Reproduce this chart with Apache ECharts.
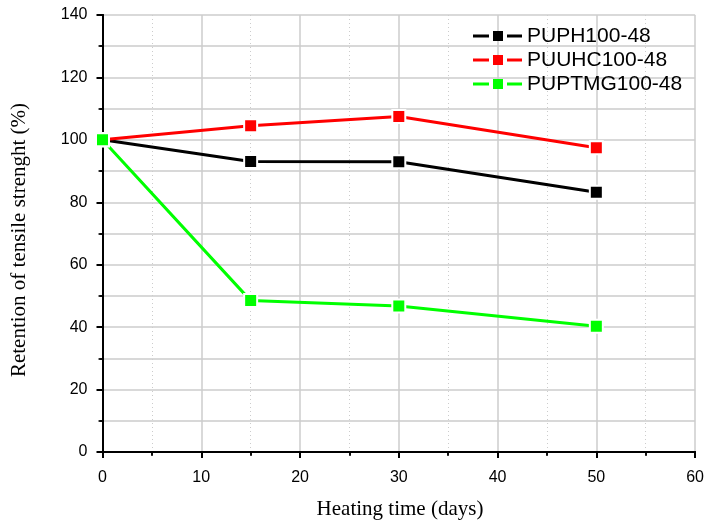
<!DOCTYPE html>
<html>
<head>
<meta charset="utf-8">
<script src="https://cdn.jsdelivr.net/npm/echarts@6/dist/echarts.min.js"></script>
<style>
  html, body { margin: 0; padding: 0; background: #fff; }
  #chart { width: 707px; height: 523px; }
</style>
</head>
<body>
<div id="chart"></div>
<script>
// Heating time (days) at which tensile strength was measured
const days = [0, 15, 30, 50];
const seriesNames = ['PUPH100-48', 'PUUHC100-48', 'PUPTMG100-48'];
// Retention of tensile strength (%) per formulation
const puph = [100, 93.1, 93.0, 83.2];
const puuhc = [100, 104.5, 107.5, 97.5];
const puptmg = [100, 48.5, 46.8, 40.3];
const seriesColors = ['#000000', '#ff0000', '#00ff00'];

const chart = echarts.init(document.getElementById('chart'));

const axisText = { fontFamily: 'Liberation Sans, Arial, sans-serif', fontSize: 16, color: '#000' };
const axisLine = { show: true, lineStyle: { color: '#000', width: 2 } };
// legend glyph: line segment, gap, square marker, gap, line segment
const legendIcon = 'path://M0,3.5h16v3h-16z M20,0h10v10h-10z M34,3.5h15v3h-15z';

function makeSeries(name, values, color) {
  return {
    name: name,
    type: 'line',
    data: days.map((d, i) => [d, values[i]]),
    symbol: 'rect',
    symbolSize: 13,
    showAllSymbol: true,
    lineStyle: { color: color, width: 3 },
    itemStyle: { color: color, borderColor: '#fff', borderWidth: 2 },
    emphasis: { disabled: true },
    z: 3
  };
}

chart.setOption({
  animation: false,
  backgroundColor: '#fff',
  grid: { left: 102.5, right: 10, top: 15, bottom: 71, containLabel: false },
  legend: {
    left: 468,
    top: 20,
    orient: 'vertical',
    icon: legendIcon,
    itemWidth: 49,
    itemHeight: 10,
    itemGap: 2,
    itemStyle: { borderWidth: 0 },
    lineStyle: { width: 0 },
    data: seriesNames,
    textStyle: { fontFamily: 'Liberation Sans, Arial, sans-serif', fontSize: 21, lineHeight: 22, color: '#000', padding: [0, 0, 0, 0] }
  },
  xAxis: [
    {
      type: 'value', min: 0, max: 60, interval: 10, position: 'bottom',
      axisLine: axisLine,
      axisTick: { show: true, inside: false, length: 6, lineStyle: { color: '#000', width: 2 } },
      minorTick: { show: true, splitNumber: 2, length: 4, lineStyle: { color: '#000', width: 1.5 } },
      axisLabel: Object.assign({ margin: 18 }, axisText),
      splitLine: { show: true, lineStyle: { color: '#cccccc', width: 1.5 } },
      minorSplitLine: { show: true, lineStyle: { color: '#cccccc', width: 1, type: [1, 3] } }
    },
    {
      type: 'value', min: 0, max: 60, interval: 10, position: 'top',
      axisLine: axisLine,
      axisTick: { show: true, inside: true, length: 5, lineStyle: { color: '#000', width: 2 } },
      minorTick: { show: true, splitNumber: 2, length: 3, lineStyle: { color: '#000', width: 1.5 } },
      axisLabel: { show: false },
      splitLine: { show: false }
    }
  ],
  yAxis: [
    {
      type: 'value', min: 0, max: 140, interval: 20, position: 'left',
      axisLine: axisLine,
      axisTick: { show: true, inside: false, length: 6, lineStyle: { color: '#000', width: 2 } },
      minorTick: { show: true, splitNumber: 2, length: 4, lineStyle: { color: '#000', width: 1.5 } },
      axisLabel: Object.assign({ margin: 15 }, axisText),
      splitLine: { show: true, lineStyle: { color: '#cccccc', width: 1.5 } },
      minorSplitLine: { show: true, lineStyle: { color: '#cccccc', width: 1.5 } }
    },
    {
      type: 'value', min: 0, max: 140, interval: 20, position: 'right',
      axisLine: axisLine,
      axisTick: { show: true, inside: true, length: 5, lineStyle: { color: '#000', width: 2 } },
      minorTick: { show: true, splitNumber: 2, length: 3, lineStyle: { color: '#000', width: 1.5 } },
      axisLabel: { show: false },
      splitLine: { show: false }
    }
  ],
  graphic: [
    {
      type: 'text',
      x: 400, y: 509,
      style: {
        text: 'Heating time (days)',
        align: 'center', verticalAlign: 'middle',
        fontFamily: 'Liberation Serif, Times New Roman, serif',
        fontSize: 21, fill: '#000'
      }
    },
    {
      type: 'text',
      x: 19, y: 240, rotation: Math.PI / 2,
      style: {
        text: 'Retention of tensile strenght (%)',
        align: 'center', verticalAlign: 'middle',
        fontFamily: 'Liberation Serif, Times New Roman, serif',
        fontSize: 21, fill: '#000'
      }
    }
  ],
  series: [
    makeSeries(seriesNames[0], puph, seriesColors[0]),
    makeSeries(seriesNames[1], puuhc, seriesColors[1]),
    makeSeries(seriesNames[2], puptmg, seriesColors[2])
  ]
});
</script>
</body>
</html>
